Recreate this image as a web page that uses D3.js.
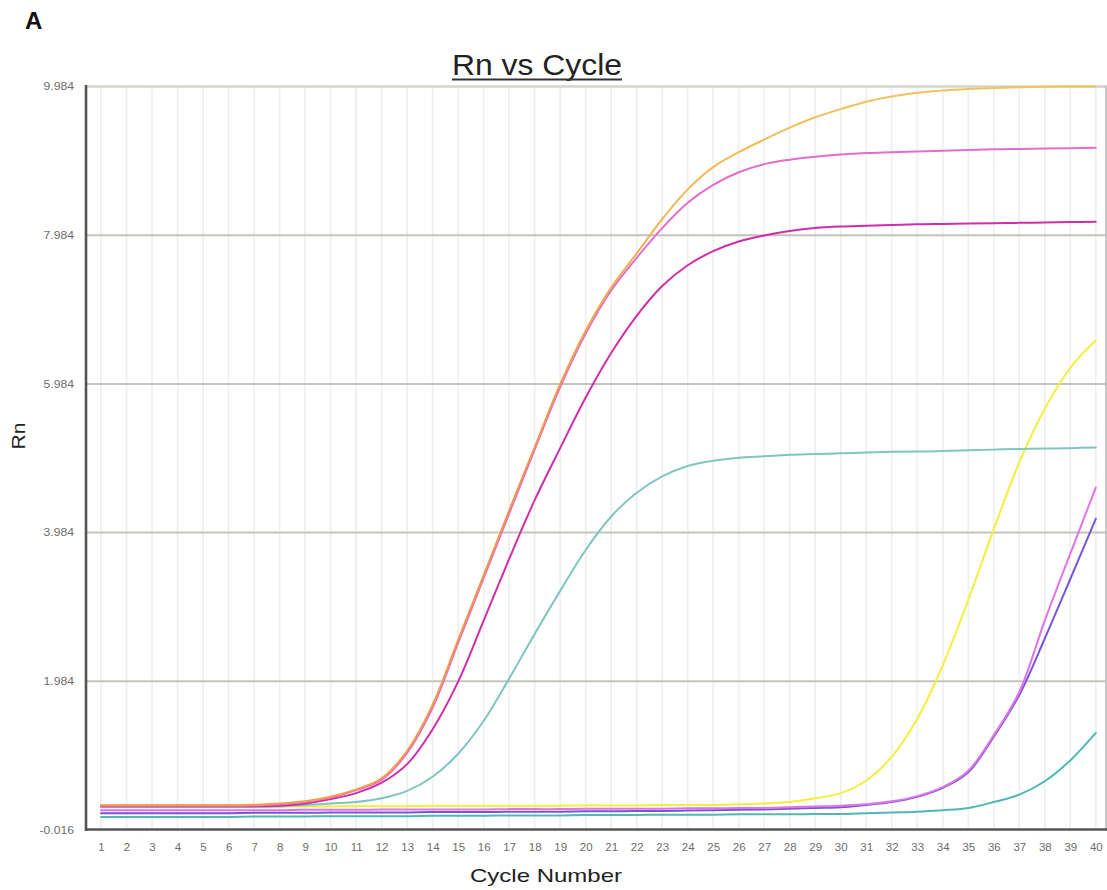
<!DOCTYPE html>
<html>
<head>
<meta charset="utf-8">
<script src="https://cdn.jsdelivr.net/npm/d3@7"></script>
<style>
  body { margin: 0; background: #ffffff; }
  svg { display: block; }
  text { font-family: "Liberation Sans", Arial, sans-serif; }
</style>
</head>
<body>
<svg id="chart" width="1107" height="890"></svg>
<script>
// Amplification cycles
const cycles = [1, 2, 3, 4, 5, 6, 7, 8, 9, 10, 11, 12, 13, 14, 15, 16, 17, 18, 19, 20,
                21, 22, 23, 24, 25, 26, 27, 28, 29, 30, 31, 32, 33, 34, 35, 36, 37, 38, 39, 40];

// Rn axis ticks
const yTickValues = [-0.016, 1.984, 3.984, 5.984, 7.984, 9.984];

// Rn per cycle for each well
const rnOrange = [0.32, 0.32, 0.32, 0.32, 0.32, 0.32, 0.325, 0.34, 0.37, 0.43,
                  0.53, 0.68, 1.05, 1.67, 2.54, 3.41, 4.28, 5.13, 5.98, 6.70,
                  7.28, 7.74, 8.20, 8.60, 8.90, 9.10, 9.27, 9.43, 9.57, 9.68,
                  9.78, 9.85, 9.90, 9.93, 9.95, 9.965, 9.975, 9.98, 9.983, 9.984];

const rnPink = [0.31, 0.31, 0.31, 0.31, 0.31, 0.31, 0.315, 0.33, 0.36, 0.42,
                0.52, 0.66, 1.02, 1.63, 2.50, 3.37, 4.24, 5.10, 5.94, 6.66,
                7.24, 7.68, 8.08, 8.42, 8.66, 8.83, 8.94, 9.00, 9.04, 9.07,
                9.09, 9.10, 9.11, 9.12, 9.13, 9.14, 9.145, 9.15, 9.155, 9.16];

const rnMagenta = [0.30, 0.30, 0.30, 0.30, 0.30, 0.30, 0.30, 0.31, 0.34, 0.40,
                   0.48, 0.62, 0.87, 1.34, 1.98, 2.80, 3.63, 4.42, 5.12, 5.80,
                   6.40, 6.90, 7.30, 7.58, 7.77, 7.90, 7.98, 8.04, 8.08, 8.10,
                   8.11, 8.12, 8.13, 8.135, 8.14, 8.145, 8.15, 8.155, 8.16, 8.165];

const rnTeal = [0.30, 0.30, 0.30, 0.30, 0.30, 0.30, 0.30, 0.30, 0.32, 0.34,
                0.36, 0.41, 0.51, 0.70, 1.01, 1.45, 2.02, 2.62, 3.20, 3.75,
                4.20, 4.52, 4.74, 4.88, 4.95, 4.99, 5.01, 5.03, 5.04, 5.05,
                5.06, 5.07, 5.075, 5.08, 5.09, 5.10, 5.11, 5.115, 5.12, 5.13];

const rnYellow = [0.30, 0.30, 0.30, 0.30, 0.30, 0.30, 0.30, 0.30, 0.30, 0.30,
                  0.305, 0.305, 0.305, 0.31, 0.31, 0.31, 0.31, 0.31, 0.31, 0.315,
                  0.315, 0.315, 0.32, 0.32, 0.32, 0.33, 0.34, 0.36, 0.41, 0.48,
                  0.65, 0.97, 1.48, 2.20, 3.08, 4.03, 4.93, 5.65, 6.20, 6.57];

const rnLatePink = [0.25, 0.25, 0.25, 0.25, 0.25, 0.25, 0.25, 0.25, 0.255, 0.255,
                    0.255, 0.26, 0.26, 0.26, 0.26, 0.26, 0.265, 0.265, 0.265, 0.27,
                    0.27, 0.27, 0.27, 0.275, 0.275, 0.28, 0.28, 0.29, 0.30, 0.31,
                    0.33, 0.37, 0.44, 0.56, 0.78, 1.26, 1.84, 2.80, 3.70, 4.59];

const rnPurple = [0.21, 0.21, 0.21, 0.21, 0.21, 0.21, 0.215, 0.215, 0.215, 0.22,
                  0.22, 0.22, 0.22, 0.225, 0.225, 0.225, 0.23, 0.23, 0.23, 0.235,
                  0.235, 0.24, 0.24, 0.245, 0.25, 0.255, 0.26, 0.27, 0.28, 0.29,
                  0.32, 0.36, 0.43, 0.55, 0.76, 1.24, 1.80, 2.56, 3.36, 4.17];

const rnLateTeal = [0.16, 0.16, 0.16, 0.16, 0.16, 0.16, 0.165, 0.165, 0.165, 0.17,
                    0.17, 0.17, 0.17, 0.175, 0.175, 0.175, 0.18, 0.18, 0.18, 0.185,
                    0.185, 0.185, 0.19, 0.19, 0.19, 0.195, 0.195, 0.195, 0.2, 0.2,
                    0.21, 0.22, 0.23, 0.25, 0.28, 0.36, 0.46, 0.64, 0.92, 1.29];

// Drawing order, back to front
const wells = [
  { values: rnLateTeal, color: "#4fb8b2" },
  { values: rnPurple,   color: "#7a54d6" },
  { values: rnLatePink, color: "#e074e6" },
  { values: rnYellow,   color: "#f4ee3e" },
  { values: rnTeal,     color: "#7ec6be" },
  { values: rnMagenta,  color: "#d02ea8" },
  { values: rnPink,     color: "#e46ccc" },
  { values: rnOrange,   color: "url(#ampGradient)" }
];

const svg = d3.select("#chart");

const plotLeft = 86, plotRight = 1106, plotTop = 86.5, plotBottom = 830;

const x = d3.scaleLinear().domain([0.41, 40.4]).range([plotLeft, plotRight]);
const y = d3.scaleLinear().domain([-0.016, 9.984]).range([plotBottom, plotTop]);

// Plain hyphen for negative tick values
const tickLocale = d3.formatLocale({
  decimal: ".", thousands: ",", grouping: [3], currency: ["", ""], minus: "-"
});

// Gradient for the brightest well: orange while rising, golden at plateau
const defs = svg.append("defs");
const grad = defs.append("linearGradient")
  .attr("id", "ampGradient")
  .attr("gradientUnits", "userSpaceOnUse")
  .attr("x1", 0).attr("x2", 0)
  .attr("y1", y(0)).attr("y2", y(10));
grad.append("stop").attr("offset", "0%").attr("stop-color", "#f0a04a");
grad.append("stop").attr("offset", "50%").attr("stop-color", "#f0944a");
grad.append("stop").attr("offset", "80%").attr("stop-color", "#f0b452");
grad.append("stop").attr("offset", "100%").attr("stop-color", "#efc45c");

// Vertical grid (one line per cycle)
svg.append("g")
  .selectAll("line")
  .data(cycles)
  .join("line")
  .attr("x1", d => x(d)).attr("x2", d => x(d))
  .attr("y1", plotTop).attr("y2", plotBottom)
  .attr("stroke", "#eeeeee")
  .attr("stroke-width", 1.6);

// Horizontal grid at the Rn ticks
svg.append("g")
  .selectAll("line")
  .data(yTickValues.slice(1, -1))
  .join("line")
  .attr("x1", plotLeft).attr("x2", plotRight)
  .attr("y1", d => y(d)).attr("y2", d => y(d))
  .attr("stroke", "#c4c4bc")
  .attr("stroke-width", 2);

// Top and right frame
svg.append("line")
  .attr("x1", plotLeft).attr("x2", plotRight)
  .attr("y1", y(9.984)).attr("y2", y(9.984))
  .attr("stroke", "#d4d4ce").attr("stroke-width", 2.5);
svg.append("line")
  .attr("x1", plotRight).attr("x2", plotRight)
  .attr("y1", plotTop - 1).attr("y2", plotBottom)
  .attr("stroke", "#b4b4b4").attr("stroke-width", 1.5);

// Amplification curves
const line = d3.line()
  .x((d, i) => x(cycles[i]))
  .y(d => y(d))
  .curve(d3.curveCatmullRom.alpha(0.5));

svg.append("g")
  .selectAll("path")
  .data(wells)
  .join("path")
  .attr("d", d => line(d.values))
  .attr("fill", "none")
  .attr("stroke", d => d.color)
  .attr("stroke-width", 2)
  .attr("stroke-linejoin", "round")
  .attr("stroke-linecap", "round");

// Axis lines
svg.append("line")
  .attr("x1", plotLeft).attr("x2", plotLeft)
  .attr("y1", plotTop - 1.5).attr("y2", plotBottom + 1)
  .attr("stroke", "#555555").attr("stroke-width", 2.6);
svg.append("line")
  .attr("x1", plotLeft - 1).attr("x2", plotRight + 1)
  .attr("y1", plotBottom - 0.5).attr("y2", plotBottom - 0.5)
  .attr("stroke", "#555555").attr("stroke-width", 2.6);

// Y tick labels
const yAxis = svg.append("g")
  .attr("transform", `translate(${plotLeft},0)`)
  .call(d3.axisLeft(y).tickValues(yTickValues).tickFormat(tickLocale.format(".3f")).tickSize(0).tickPadding(0));
yAxis.select(".domain").remove();
yAxis.selectAll("text")
  .attr("x", 0)
  .attr("transform", "translate(-12,0) scale(1.22,1)")
  .attr("font-size", 10)
  .attr("font-family", "'Liberation Sans', Arial, sans-serif")
  .attr("fill", "#6c6c6c");

// X tick labels
const xAxis = svg.append("g")
  .attr("transform", `translate(0,${plotBottom})`)
  .call(d3.axisBottom(x).tickValues(cycles).tickFormat(d3.format("d")).tickSize(0).tickPadding(0));
xAxis.select(".domain").remove();
xAxis.selectAll("text")
  .attr("y", 18)
  .attr("dy", "0.32em")
  .attr("transform", "scale(1.15,1)")
  .attr("font-size", 10)
  .attr("font-family", "'Liberation Sans', Arial, sans-serif")
  .attr("fill", "#6c6c6c");

// Panel letter
svg.append("text")
  .attr("x", 25).attr("y", 29)
  .attr("font-size", 24)
  .attr("font-weight", "bold")
  .attr("fill", "#111111")
  .text("A");

// Title, underlined
svg.append("text")
  .attr("x", 537).attr("y", 75)
  .attr("text-anchor", "middle")
  .attr("font-size", 30)
  .attr("textLength", 170)
  .attr("lengthAdjust", "spacingAndGlyphs")
  .attr("fill", "#222222")
  .text("Rn vs Cycle");
svg.append("line")
  .attr("x1", 452).attr("x2", 622)
  .attr("y1", 79.5).attr("y2", 79.5)
  .attr("stroke", "#333333").attr("stroke-width", 2);

// Axis titles
svg.append("text")
  .attr("x", 546).attr("y", 882)
  .attr("text-anchor", "middle")
  .attr("font-size", 19)
  .attr("textLength", 152)
  .attr("lengthAdjust", "spacingAndGlyphs")
  .attr("fill", "#222222")
  .text("Cycle Number");

svg.append("text")
  .attr("transform", "translate(25,436) rotate(-90)")
  .attr("text-anchor", "middle")
  .attr("font-size", 18)
  .attr("textLength", 27)
  .attr("lengthAdjust", "spacingAndGlyphs")
  .attr("fill", "#222222")
  .text("Rn");
</script>
</body>
</html>
